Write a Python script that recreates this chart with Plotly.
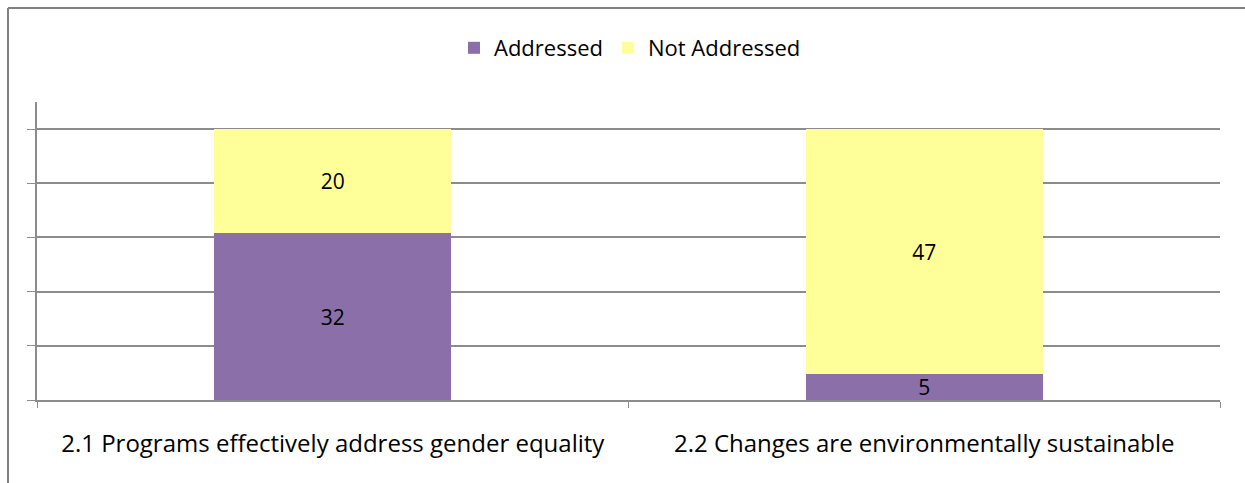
import plotly.graph_objects as go

categories = [
    "2.1 Programs effectively address gender equality",
    "2.2 Changes are environmentally sustainable",
]
addressed = [32, 5]
not_addressed = [20, 47]

W, H = 1245, 483
ML, MR, MT, MB = 37, 25, 102, 83
PW, PH = W - ML - MR, H - MT - MB


def px_x(x):
    return (x - ML) / PW


def px_y(y):
    return (H - MB - y) / PH


grid = "#8c8c8c"
font = "Open Sans, Liberation Sans, sans-serif"

fig = go.Figure()
fig.add_trace(go.Bar(
    x=categories, y=addressed, name="Addressed",
    marker=dict(color="#8A6FA8", line_width=0),
    text=addressed, texttemplate="%{text}", textposition="inside",
    insidetextanchor="middle", textangle=0, constraintext="none",
    textfont=dict(color="black", size=21),
    width=0.4,
))
fig.add_trace(go.Bar(
    x=categories, y=not_addressed, name="Not Addressed",
    marker=dict(color="#FFFF99", line_width=0),
    text=not_addressed, texttemplate="%{text}", textposition="inside",
    insidetextanchor="middle", textangle=0, constraintext="none",
    textfont=dict(color="black", size=21),
    width=0.4,
))

# outer chart border (left and top only visible)
fig.add_shape(type="line", xref="paper", yref="paper",
              x0=px_x(8), x1=px_x(8), y0=px_y(8), y1=px_y(H + 5),
              line=dict(color="#808080", width=2))
fig.add_shape(type="line", xref="paper", yref="paper",
              x0=px_x(8), x1=px_x(W + 5), y0=px_y(8), y1=px_y(8),
              line=dict(color="#808080", width=2))

fig.update_layout(
    width=W, height=H,
    barmode="stack", barnorm="fraction",
    margin=dict(l=ML, r=MR, t=MT, b=MB),
    paper_bgcolor="white", plot_bgcolor="white",
    font=dict(family=font, color="black", size=22),
    showlegend=True,
    legend=dict(orientation="h", x=px_x(630), xanchor="center",
                y=px_y(48), yanchor="middle", font=dict(size=22),
                traceorder="normal", itemwidth=30),
    xaxis=dict(showline=True, linecolor=grid, linewidth=1.5,
               ticks="outside", tickson="boundaries", ticklen=6,
               tickcolor=grid, tickfont=dict(size=24), showgrid=False,
               ticklabelstandoff=21),
    yaxis=dict(range=[0, 1.1], dtick=0.2, showgrid=True, gridcolor=grid,
               gridwidth=1.5, showline=True, linecolor=grid, linewidth=1.5,
               ticks="outside", ticklen=8, tickcolor=grid,
               showticklabels=False, zeroline=False),
)

fig.write_html("out.html", config={"displayModeBar": False},
               post_script="document.body.style.margin='0';")
